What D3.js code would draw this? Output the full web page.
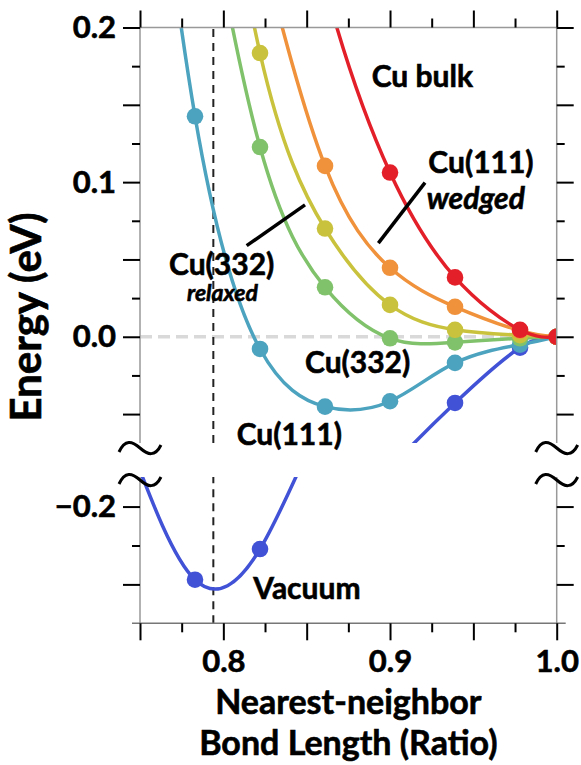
<!DOCTYPE html>
<html>
<head>
<meta charset="utf-8">
<script src="https://cdn.jsdelivr.net/npm/d3@7"></script>
<style>
body { margin: 0; background: #fff; }
svg text { font-family: Lato, 'Open Sans', sans-serif; font-weight: bold; fill: #000; stroke: #000; stroke-width: 0.6px; }
</style>
</head>
<body>
<svg id="chart" width="581" height="765"></svg>
<script>
// bond length ratios where energies were computed
const bondRatio = [0.744, 0.783, 0.822, 0.861, 0.900, 0.939, 0.978, 1.0];

// energies (eV), null = not computed
const cuBulk       = [null, null, 0.41, 0.227, 0.1062, 0.0384, 0.0045, 0];
const cu111Wedged  = [null, null, 0.255, 0.1105, 0.0446, 0.0194, 0.004, 0];
const cu332Relaxed = [null, 0.433, 0.1835, 0.070, 0.0206, 0.0045, 0.001, 0];
const cu332        = [null, 0.33, 0.1227, 0.032, -0.001, -0.0036, -0.001, 0];
const cu111        = [0.47, 0.1426, -0.0079, -0.0452, -0.0417, -0.0169, -0.0051, 0];
const vacuum       = [-0.16, -0.247, -0.2273, -0.142, -0.085, -0.0428, -0.007, 0];
const vacuumMin = 0.794;

const xMajor = [0.75, 0.8, 0.85, 0.9, 0.95, 1.0];
const xMinor = [0.775, 0.825, 0.875, 0.925, 0.975];
const xLabelled = [0.8, 0.9, 1.0];
const yTopMajor = [-0.05, 0, 0.05, 0.1, 0.15, 0.2];
const yTopMinor = [-0.025, 0.025, 0.075, 0.125, 0.175];
const yTopLabelled = [0, 0.1, 0.2];
const yBotMajor = [-0.25, -0.2];
const yBotMinor = [-0.225];
const yBotLabelled = [-0.2];

const series = [
    { name: 'Vacuum', values: vacuum, color: '#4152d6' },
    { name: 'Cu(111)', values: cu111, color: '#4ca3bf' },
    { name: 'Cu(332)', values: cu332, color: '#80c26b' },
    { name: 'Cu(332) relaxed', values: cu332Relaxed, color: '#c9c23d' },
    { name: 'Cu(111) wedged', values: cu111Wedged, color: '#f0913b' },
    { name: 'Cu bulk', values: cuBulk, color: '#e3202a' }
];

const svg = d3.select('#chart');

const x = d3.scaleLinear().domain([0.75, 1.0]).range([140, 556.7]);
const yTop = d3.scaleLinear().domain([-0.0687, 0.2]).range([443, 27.5]);
const yBot = d3.scaleLinear().domain([-0.275, -0.181]).range([623.3, 477]);

const panels = [
    { id: 'top', y: yTop },
    { id: 'bot', y: yBot }
];

const defs = svg.append('defs');
panels.forEach(p => {
    const [y0, y1] = p.y.range();
    defs.append('clipPath').attr('id', 'clip-' + p.id)
        .append('rect')
        .attr('x', x(0.75)).attr('width', x(1.0) - x(0.75))
        .attr('y', y1).attr('height', y0 - y1);
});

// zero reference line
svg.append('line')
    .attr('x1', x(0.75)).attr('x2', x(1.0))
    .attr('y1', yTop(0)).attr('y2', yTop(0))
    .style('stroke', '#d9d9d9').style('stroke-width', 3.5)
    .style('stroke-dasharray', '12 6');

// vacuum minimum marker
panels.forEach(p => {
    svg.append('line')
        .attr('x1', x(vacuumMin)).attr('x2', x(vacuumMin))
        .attr('y1', p.y.range()[0]).attr('y2', p.y.range()[1])
        .style('stroke', '#222').style('stroke-width', 2)
        .style('stroke-dasharray', '8 6');
});

// curves and points
panels.forEach(p => {
    const g = svg.append('g').attr('clip-path', `url(#clip-${p.id})`);
    const line = d3.line()
        .defined(d => d[1] != null)
        .x(d => x(d[0]))
        .y(d => p.y(d[1]))
        .curve(d3.curveNatural);

    series.forEach(s => {
        const pts = bondRatio.map((b, i) => [b, s.values[i]]);
        g.append('path')
            .datum(pts)
            .attr('d', line)
            .style('fill', 'none')
            .style('stroke', s.color)
            .style('stroke-width', 3.5);
        g.selectAll(null)
            .data(pts.filter(d => d[1] != null))
            .enter().append('circle')
            .attr('cx', d => x(d[0]))
            .attr('cy', d => p.y(d[1]))
            .attr('r', 8.3)
            .style('fill', s.color);
    });
});

// axis lines
const axisColor = '#999';
const xl = x.range();
panels.forEach(p => {
    const [y0, y1] = p.y.range();
    [xl[0], xl[1]].forEach(xx => {
        svg.append('line').attr('x1', xx).attr('x2', xx).attr('y1', y0).attr('y2', y1)
            .style('stroke', axisColor).style('stroke-width', 1.5);
    });
});
svg.append('line').attr('x1', xl[0]).attr('x2', xl[1])
    .attr('y1', yTop.range()[1]).attr('y2', yTop.range()[1])
    .style('stroke', axisColor).style('stroke-width', 1.5);
svg.append('line').attr('x1', xl[0] - 8).attr('x2', xl[1] + 9)
    .attr('y1', yBot.range()[0]).attr('y2', yBot.range()[0])
    .style('stroke', '#777').style('stroke-width', 1.5);

const fmt = d3.format('.1f');
const labelIf = list => d => list.some(v => Math.abs(v - d) < 1e-9) ? fmt(d) : '';

function styleAxis(g) {
    g.select('.domain').remove();
    g.selectAll('line').style('stroke', '#000').style('stroke-width', 2);
    g.selectAll('text')
        .style('font-family', 'Lato, sans-serif')
        .style('font-weight', 'bold')
        .style('font-size', '31px')
        .style('fill', '#000');
}

const yB = yBot.range()[0], yT = yTop.range()[1];

// bottom / top axes
svg.append('g').attr('transform', `translate(0,${yB})`)
    .call(d3.axisBottom(x).tickValues(xMajor).tickSize(17).tickPadding(10).tickFormat(labelIf(xLabelled)))
    .call(styleAxis);
svg.append('g').attr('transform', `translate(0,${yB})`)
    .call(d3.axisBottom(x).tickValues(xMinor).tickSize(9).tickFormat(''))
    .call(styleAxis);
svg.append('g').attr('transform', `translate(0,${yT})`)
    .call(d3.axisTop(x).tickValues(xMajor).tickSize(17).tickFormat(''))
    .call(styleAxis);
svg.append('g').attr('transform', `translate(0,${yT})`)
    .call(d3.axisTop(x).tickValues(xMinor).tickSize(9).tickFormat(''))
    .call(styleAxis);

// left / right axes for both panels
[[yTop, yTopMajor, yTopMinor, yTopLabelled], [yBot, yBotMajor, yBotMinor, yBotLabelled]]
    .forEach(([y, major, minor, labelled]) => {
        svg.append('g').attr('transform', `translate(${xl[0]},0)`)
            .call(d3.axisLeft(y).tickValues(major).tickSize(17).tickPadding(7).tickFormat(labelIf(labelled)))
            .call(styleAxis);
        svg.append('g').attr('transform', `translate(${xl[0]},0)`)
            .call(d3.axisLeft(y).tickValues(minor).tickSize(8).tickFormat(''))
            .call(styleAxis);
        svg.append('g').attr('transform', `translate(${xl[1]},0)`)
            .call(d3.axisRight(y).tickValues(major).tickSize(17).tickFormat(''))
            .call(styleAxis);
        svg.append('g').attr('transform', `translate(${xl[1]},0)`)
            .call(d3.axisRight(y).tickValues(minor).tickSize(8).tickFormat(''))
            .call(styleAxis);
    });

// axis break marks
const tilde = 'M-21,4 C-15,-9 -8,-7 0,0 C8,7 15,9 21,-3';
[yTop.range()[0] + 5, yBot.range()[1] + 3].forEach(yy => {
    [xl[0], xl[1]].forEach(xx => {
        svg.append('path')
            .attr('d', tilde)
            .attr('transform', `translate(${xx},${yy})`)
            .style('fill', 'none').style('stroke', '#000').style('stroke-width', 3);
    });
});

// series annotations
const notes = [
    { t: 'Cu bulk', x: 0.889, y: yTop(0.1618), size: 30 },
    { t: 'Cu(111)', x: 0.923, y: yTop(0.1059), size: 30 },
    { t: 'wedged', x: 0.922, y: yTop(0.0826), size: 30, italic: true },
    { t: 'Cu(332)', x: 0.799, y: yTop(0.0401), size: 30, anchor: 'middle' },
    { t: 'relaxed', x: 0.7995, y: yTop(0.0229), size: 23, italic: true, anchor: 'middle' },
    { t: 'Cu(332)', x: 0.849, y: yTop(-0.0234), size: 30 },
    { t: 'Cu(111)', x: 0.808, y: yTop(-0.0697), size: 30 },
    { t: 'Vacuum', x: 0.818, y: yBot(-0.2596), size: 30 }
];
svg.selectAll(null).data(notes).enter().append('text')
    .attr('x', d => x(d.x))
    .attr('y', d => d.y)
    .attr('text-anchor', d => d.anchor || 'start')
    .style('font-size', d => d.size + 'px')
    .style('font-style', d => d.italic ? 'italic' : 'normal')
    .text(d => d.t);

const leaders = [
    [[0.893, 0.0606], [0.921, 0.0997]],
    [[0.814, 0.0589], [0.849, 0.0853]]
];
leaders.forEach(([a, b]) => {
    svg.append('line')
        .attr('x1', x(a[0])).attr('y1', yTop(a[1]))
        .attr('x2', x(b[0])).attr('y2', yTop(b[1]))
        .style('stroke', '#000').style('stroke-width', 3.5);
});

// axis titles
const cx = (xl[0] + xl[1]) / 2;
svg.append('text').attr('x', cx).attr('y', 714).attr('text-anchor', 'middle')
    .style('font-size', '34px').text('Nearest-neighbor');
svg.append('text').attr('x', cx).attr('y', 755).attr('text-anchor', 'middle')
    .style('font-size', '34px').text('Bond Length (Ratio)');
svg.append('text')
    .attr('transform', 'translate(41,317) rotate(-90)')
    .attr('text-anchor', 'middle')
    .style('font-size', '42px').text('Energy (eV)');
</script>
</body>
</html>
